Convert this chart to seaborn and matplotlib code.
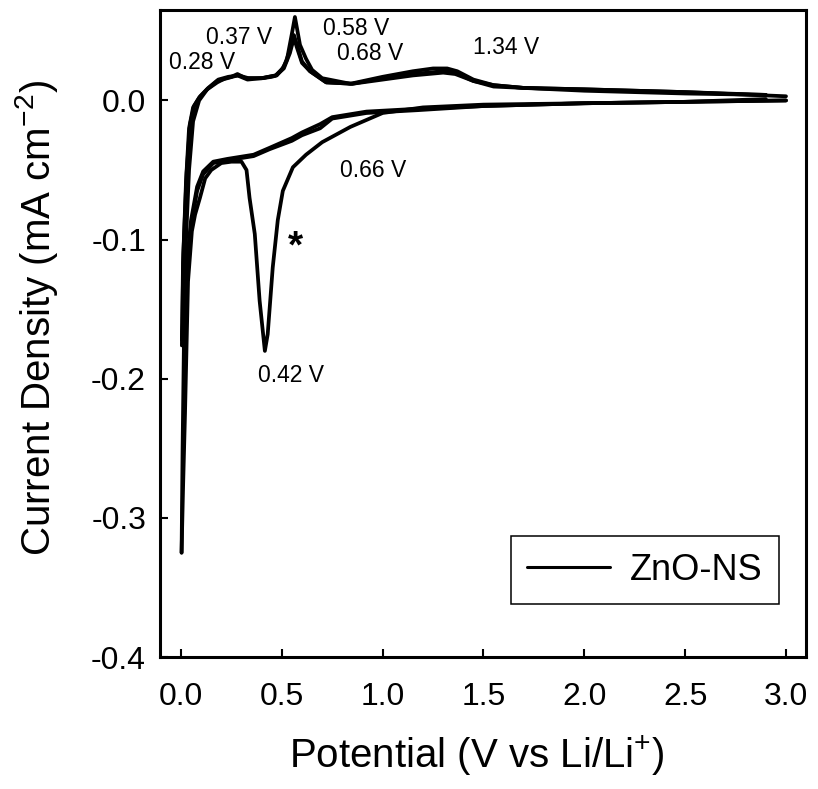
import numpy as np
import pandas as pd
import matplotlib
matplotlib.use("Agg")
import matplotlib.pyplot as plt
import seaborn as sns
from matplotlib.lines import Line2D

# cycle 1 (first discharge, shows the 0.42 V SEI peak)
c1_cath_v = [3.00, 2.50, 2.00, 1.50, 1.20, 1.00, 0.84, 0.70, 0.62, 0.555, 0.505, 0.48, 0.455,
             0.43, 0.416, 0.39, 0.366, 0.34, 0.325, 0.30, 0.25, 0.20, 0.15, 0.12, 0.094,
             0.07, 0.054, 0.035, 0.02, 0.010, 0.003]
c1_cath_i = [0.000, -0.001, -0.002, -0.003, -0.005, -0.009, -0.019, -0.030, -0.039, -0.048,
             -0.065, -0.086, -0.120, -0.168, -0.180, -0.144, -0.096, -0.070, -0.050, -0.044,
             -0.044, -0.045, -0.050, -0.056, -0.070, -0.082, -0.094, -0.130, -0.225, -0.280, -0.325]
c1_anod_v = [0.003, 0.008, 0.015, 0.025, 0.040, 0.060, 0.090, 0.130, 0.180, 0.220, 0.250,
             0.280, 0.320, 0.360, 0.405, 0.450, 0.475, 0.500, 0.525, 0.550, 0.565, 0.575,
             0.590, 0.620, 0.650, 0.700, 0.840, 1.000, 1.150, 1.250, 1.320, 1.370, 1.450,
             1.550, 1.700, 2.000, 2.500, 3.000]
c1_anod_i = [-0.325, -0.250, -0.170, -0.100, -0.050, -0.015, 0.000, 0.008, 0.013, 0.016, 0.017,
             0.019, 0.016, 0.016, 0.016, 0.017, 0.018, 0.022, 0.029, 0.048, 0.060, 0.052,
             0.040, 0.030, 0.022, 0.016, 0.012, 0.017, 0.021, 0.023, 0.023, 0.021, 0.015,
             0.011, 0.009, 0.008, 0.006, 0.003]

# cycle 2
c2_cath_v = [3.00, 2.50, 2.00, 1.50, 1.17, 0.92, 0.75, 0.69, 0.60, 0.55, 0.44, 0.36, 0.23,
             0.16, 0.11, 0.08, 0.05, 0.03, 0.015, 0.005]
c2_cath_i = [0.000, -0.001, -0.002, -0.004, -0.007, -0.009, -0.013, -0.020, -0.025, -0.029,
             -0.035, -0.040, -0.043, -0.045, -0.053, -0.065, -0.090, -0.120, -0.150, -0.176]
c2_anod_v = [0.005, 0.010, 0.025, 0.040, 0.060, 0.090, 0.130, 0.180, 0.230, 0.280, 0.330,
             0.400, 0.470, 0.510, 0.540, 0.560, 0.575, 0.600, 0.640, 0.680, 0.720, 0.850,
             1.000, 1.150, 1.300, 1.360, 1.450, 1.550, 1.700, 2.000, 2.500, 2.900]
c2_anod_i = [-0.176, -0.117, -0.058, -0.020, -0.005, 0.002, 0.008, 0.014, 0.016, 0.018, 0.015,
             0.016, 0.018, 0.024, 0.036, 0.047, 0.040, 0.028, 0.021, 0.017, 0.013, 0.012,
             0.016, 0.019, 0.021, 0.020, 0.014, 0.011, 0.009, 0.008, 0.006, 0.004]

# cycle 3
c3_cath_v = [2.90, 2.50, 2.00, 1.50, 1.17, 0.92, 0.75, 0.69, 0.60, 0.55, 0.44, 0.36, 0.23,
             0.16, 0.11, 0.08, 0.05, 0.03, 0.015, 0.005]
c3_cath_i = [0.001, -0.001, -0.002, -0.004, -0.006, -0.008, -0.012, -0.017, -0.023, -0.027,
             -0.034, -0.039, -0.042, -0.044, -0.051, -0.062, -0.086, -0.116, -0.146, -0.172]
c3_anod_v = [0.005, 0.012, 0.028, 0.045, 0.065, 0.095, 0.135, 0.185, 0.235, 0.285, 0.335,
             0.400, 0.470, 0.510, 0.540, 0.560, 0.575, 0.600, 0.640, 0.680, 0.720, 0.850,
             1.000, 1.150, 1.300, 1.360, 1.450, 1.550, 1.700, 2.000, 2.500, 2.900]
c3_anod_i = [-0.172, -0.110, -0.052, -0.017, -0.004, 0.003, 0.009, 0.015, 0.017, 0.018, 0.016,
             0.016, 0.018, 0.023, 0.034, 0.045, 0.038, 0.027, 0.021, 0.017, 0.013, 0.012,
             0.015, 0.018, 0.020, 0.019, 0.014, 0.010, 0.009, 0.007, 0.005, 0.004]

# peak labels
peak_text = ["0.28 V", "0.37 V", "0.58 V", "0.68 V", "1.34 V", "0.66 V", "0.42 V"]
peak_x = [0.104, 0.287, 0.866, 0.94, 1.61, 0.955, 0.545]
peak_y = [0.027, 0.045, 0.052, 0.034, 0.038, -0.050, -0.198]

sns.set_style("ticks")
plt.rcParams['font.family'] = ['Liberation Sans', 'DejaVu Sans']
plt.rcParams['mathtext.fontset'] = 'custom'
plt.rcParams['mathtext.rm'] = 'Liberation Sans'
plt.rcParams['mathtext.it'] = 'Liberation Sans'
for key in ['text.color', 'axes.labelcolor', 'xtick.color', 'ytick.color', 'axes.edgecolor']:
    plt.rcParams[key] = 'black'

fig = plt.figure(figsize=(8.18, 7.89), dpi=100)
ax = fig.add_axes([0.1956, 0.1673, 0.7897, 0.82])

branches = [(c1_cath_v, c1_cath_i), (c1_anod_v, c1_anod_i),
            (c2_cath_v, c2_cath_i), (c2_anod_v, c2_anod_i),
            (c3_cath_v, c3_cath_i), (c3_anod_v, c3_anod_i)]
for v, i in branches:
    df = pd.DataFrame({'V': v, 'I': i})
    sns.lineplot(data=df, x='V', y='I', sort=False, estimator=None, color='black',
                 lw=2.7, ax=ax, legend=False)

for t, x, y in zip(peak_text, peak_x, peak_y):
    ax.text(x, y, t, fontsize=16.5, ha='center', va='center')
ax.text(0.57, -0.106, '*', fontsize=28, fontweight='bold', ha='center', va='center')

ax.set_xlim(-0.104, 3.099)
ax.set_ylim(-0.4, 0.065)
ax.set_xticks([0.0, 0.5, 1.0, 1.5, 2.0, 2.5, 3.0])
ax.set_yticks([-0.4, -0.3, -0.2, -0.1, 0.0])
ax.set_xticklabels(['0.0', '0.5', '1.0', '1.5', '2.0', '2.5', '3.0'])
ax.set_yticklabels(['-0.4', '-0.3', '-0.2', '-0.1', '0.0'])
ax.tick_params(direction='in', length=6, width=1.5, labelsize=23,
               top=False, right=False)
ax.tick_params(axis='x', pad=18)
ax.tick_params(axis='y', pad=10)
for s in ax.spines.values():
    s.set_linewidth(2.2)
    s.set_color('black')

ax.set_xlabel('Potential (V vs Li/Li$^{+}$)', fontsize=29)
ax.set_ylabel('Current Density (mA cm$^{-2}$)', fontsize=29)
ax.xaxis.set_label_coords(0.49, -0.118)
ax.yaxis.set_label_coords(-0.155, 0.524)

handle = Line2D([], [], color='black', lw=2.2)
leg = ax.legend([handle], ['ZnO-NS'], loc='lower right', bbox_to_anchor=(0.958, 0.082),
                borderaxespad=0, fontsize=26, frameon=True, fancybox=False,
                handlelength=2.3, borderpad=0.45, handletextpad=0.55)
leg.get_frame().set_edgecolor('black')
leg.get_frame().set_linewidth(1.1)
leg.get_frame().set_alpha(1)

fig.savefig('out.png', dpi=100)
